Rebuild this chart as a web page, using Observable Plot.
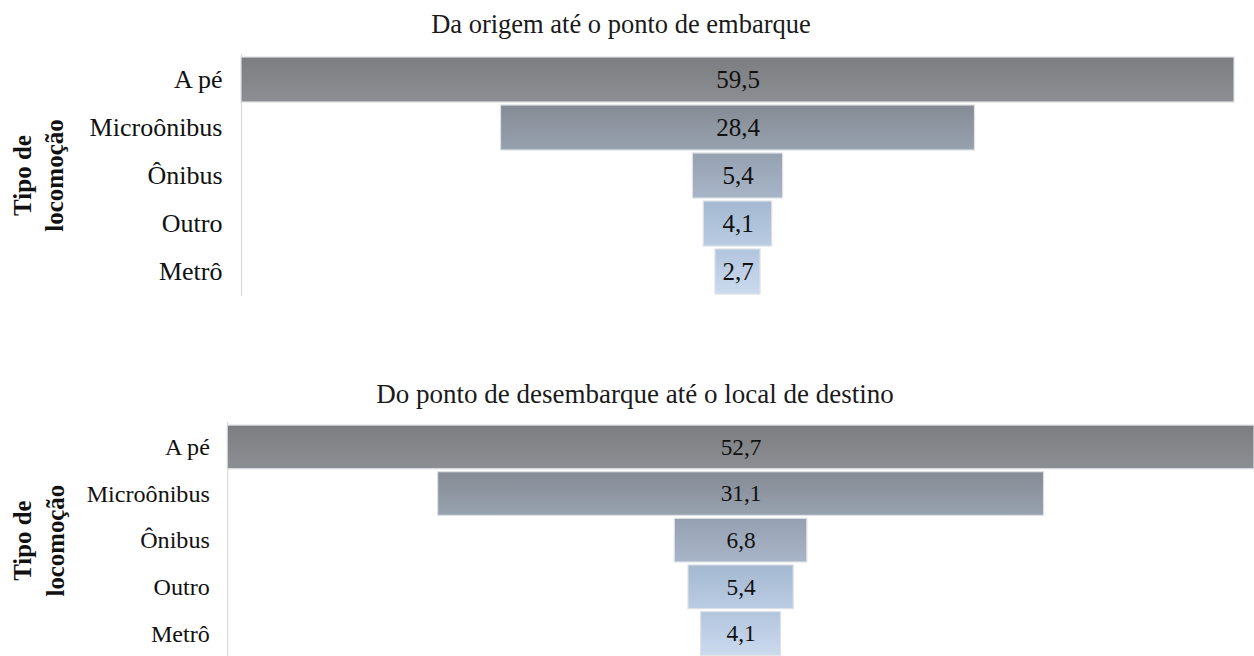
<!DOCTYPE html>
<html>
<head>
<meta charset="utf-8">
<script src="https://cdn.jsdelivr.net/npm/d3@7"></script>
<script src="https://cdn.jsdelivr.net/npm/@observablehq/plot@0.6"></script>
<style>
  html, body { margin: 0; padding: 0; background: #fff; overflow: hidden; }
  #page { position: relative; width: 1254px; height: 656px; overflow: hidden; }
  .title { position: absolute; left: 0; text-align: center; font-family: "Liberation Serif", serif; font-size: 26px; line-height: 26px; color: #1a1a1a; white-space: nowrap; }
  .chart { position: absolute; left: 0; }
  .chart svg, .chart svg text { font-family: "Liberation Serif", serif !important; }
</style>
</head>
<body>
<div id="page"></div>
<script>
// ---- data ----
const categories = ["A pé", "Microônibus", "Ônibus", "Outro", "Metrô"];
const origemValues = [59.5, 28.4, 5.4, 4.1, 2.7];
const destinoValues = [52.7, 31.1, 6.8, 5.4, 4.1];
const titleOrigem = "Da origem até o ponto de embarque";
const titleDestino = "Do ponto de desembarque até o local de destino";
const axisTitle = "Tipo de\nlocomoção";

// ---- styles ----
const serif = "Liberation Serif";
const gradientStops = [
  ["#7c7d7f", "#8b8e93"],
  ["#858b94", "#97a2af"],
  ["#95a1b1", "#a8b5c8"],
  ["#a4b8d1", "#b9cce3"],
  ["#b2c5de", "#cbdaee"]
];
const fmt = v => v.toFixed(1).replace(".", ",");

const page = document.getElementById("page");

function funnel(values, opts) {
  const rows = categories.map((c, i) => ({cat: c, v: values[i]}));
  const half = d3.max(values) / 2;
  const prefix = opts.id;
  const svg = Plot.plot({
    width: opts.width,
    height: opts.height,
    marginTop: opts.marginTop,
    marginBottom: opts.marginBottom,
    marginLeft: opts.marginLeft,
    marginRight: opts.marginRight,
    style: {fontFamily: serif, fontSize: opts.tickFont + "px", color: "#111", background: "transparent"},
    x: {domain: [-half, half], axis: null},
    y: {domain: categories, paddingInner: 0.07, paddingOuter: 0.035, label: null},
    color: {domain: categories, range: categories.map((c, i) => `url(#${prefix}-g${i})`)},
    marks: [
      Plot.ruleX([-half], {stroke: "#d9d9d9", strokeWidth: 1.2}),
      Plot.barX(rows, {
        x1: d => -d.v / 2, x2: d => d.v / 2, y: "cat",
        fill: "cat", stroke: "#dde1e6", strokeWidth: 1.2
      }),
      Plot.text(rows, {
        x: 0, y: "cat", text: d => fmt(d.v),
        fontFamily: serif, fontSize: opts.valueFont, fill: "#111"
      }),
      Plot.axisY({tickSize: 0, tickPadding: opts.tickPadding, fontFamily: serif, fontSize: opts.tickFont, label: null, fill: "#111"}),
      Plot.text([axisTitle], {
        frameAnchor: "left", dx: opts.titleDx, rotate: -90,
        textAnchor: "middle", lineAnchor: "middle",
        fontFamily: serif, fontWeight: "bold", fontSize: opts.axisFont, lineHeight: 1.3, fill: "#111"
      })
    ]
  });
  svg.setAttribute("font-family", serif);
  // gradient definitions
  const defs = d3.select(svg).insert("defs", ":first-child");
  gradientStops.forEach((s, i) => {
    const g = defs.append("linearGradient").attr("id", `${prefix}-g${i}`)
      .attr("x1", 0).attr("y1", 0).attr("x2", 0).attr("y2", 1);
    g.append("stop").attr("offset", "0%").attr("stop-color", s[0]);
    g.append("stop").attr("offset", "100%").attr("stop-color", s[1]);
  });
  const wrap = document.createElement("div");
  wrap.className = "chart";
  wrap.style.top = opts.top + "px";
  wrap.appendChild(svg);
  page.appendChild(wrap);

  const t = document.createElement("div");
  t.className = "title";
  t.style.top = opts.titleTop + "px";
  t.style.width = opts.titleWidth + "px";
  t.style.fontSize = opts.titleFont + "px";
  t.textContent = opts.title;
  page.appendChild(t);
}

funnel(origemValues, {
  id: "top", title: titleOrigem, titleTop: 11, titleWidth: 1242, titleFont: 26.5,
  top: 0, width: 1254, height: 310,
  marginTop: 54, marginBottom: 14, marginLeft: 241, marginRight: 20,
  tickFont: 26, valueFont: 25, axisFont: 25, tickPadding: 19, titleDx: -205
});

funnel(destinoValues, {
  id: "bot", title: titleDestino, titleTop: 381, titleWidth: 1270, titleFont: 27,
  top: 310, width: 1264, height: 360,
  marginTop: 113, marginBottom: 9, marginLeft: 229, marginRight: 0,
  tickFont: 24.3, valueFont: 23.5, axisFont: 25, tickPadding: 18, titleDx: -192
});
</script>
</body>
</html>
